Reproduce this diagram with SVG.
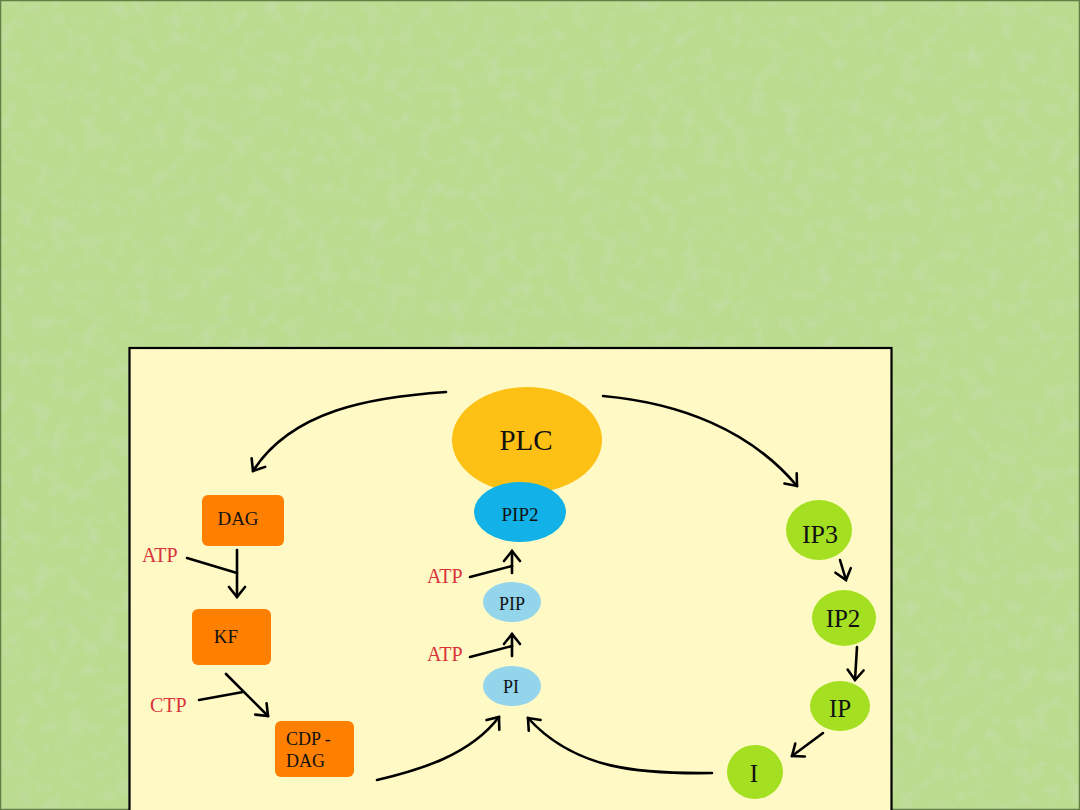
<svg xmlns="http://www.w3.org/2000/svg" width="1080" height="810" viewBox="0 0 1080 810">
<style>
.lbl{font-family:"Liberation Serif","Times New Roman",serif;fill:#111;text-anchor:middle}
.red{font-family:"Liberation Serif","Times New Roman",serif;fill:#d8333b;font-size:20px}
.box{fill:#ff8000}
.edge{fill:none;stroke:#000;stroke-width:2.6;stroke-linecap:round}
.ip{fill:#a4e021}
.pi{fill:#93d5eb}
</style>
<defs>
<filter id="tex" x="0" y="0" width="100%" height="100%">
<feTurbulence type="fractalNoise" baseFrequency="0.06" numOctaves="4" seed="7"/>
<feColorMatrix type="matrix" values="0 0 0 0 0.58  0 0 0 0 0.72  0 0 0 0 0.44  1.8 0 0 0 -0.8"/>
</filter>
<marker id="arr" viewBox="0 0 14 20" refX="12" refY="10" markerWidth="14" markerHeight="20" markerUnits="userSpaceOnUse" orient="auto">
<path d="M2,2 L12,10 L2,18" fill="none" stroke="#000" stroke-width="2.6" stroke-linecap="round" stroke-linejoin="miter"/>
</marker>
</defs>
<rect x="0" y="0" width="1080" height="810" fill="#badc8e"/>
<rect x="0" y="0" width="1080" height="810" fill="#badc8e" filter="url(#tex)" opacity="0.75"/>
<rect x="0.5" y="0.5" width="1079" height="809" fill="none" stroke="#5f7f45" stroke-width="1.5"/>
<rect id="panel" x="129.5" y="348" width="762" height="475" fill="#fff9c6" stroke="#000" stroke-width="2.2"/>

<g id="connectors">
<path class="edge" d="M446,392 C372,397 292,410 253,471" marker-end="url(#arr)"/>
<path class="edge" d="M603,396 C680,403 750,430 797,486" marker-end="url(#arr)"/>
<path class="edge" d="M377,780 C420,770 470,755 499,717" marker-end="url(#arr)"/>
<path class="edge" d="M712,773 C640,774 575,770 528,718" marker-end="url(#arr)"/>
<path class="edge" d="M237,550 L237,597" marker-end="url(#arr)"/>
<path class="edge" d="M187,558 L237,573"/>
<path class="edge" d="M226,674 L268,716" marker-end="url(#arr)"/>
<path class="edge" d="M199,700 L243,692"/>
<path class="edge" d="M512,656 L512,634" marker-end="url(#arr)"/>
<path class="edge" d="M470,657 L512,646"/>
<path class="edge" d="M512,573 L512,551" marker-end="url(#arr)"/>
<path class="edge" d="M470,577 L512,566"/>
<path class="edge" d="M840,560 L846,580" marker-end="url(#arr)"/>
<path class="edge" d="M857,647 L855,680" marker-end="url(#arr)"/>
<path class="edge" d="M823,733 L792,756" marker-end="url(#arr)"/>
</g>

<g id="PLC"><ellipse cx="527" cy="440" rx="75" ry="53" fill="#fdc014"/><text class="lbl" x="526" y="450" font-size="29">PLC</text></g>
<g id="PIP2"><ellipse cx="520" cy="512" rx="46" ry="30" fill="#12b1e8"/><text class="lbl" x="520" y="521" font-size="19">PIP2</text></g>
<g id="PIP"><ellipse class="pi" cx="512" cy="602" rx="29" ry="20"/><text class="lbl" x="512" y="610" font-size="18">PIP</text></g>
<g id="PI"><ellipse class="pi" cx="512" cy="686" rx="29" ry="20"/><text class="lbl" x="511" y="693" font-size="18">PI</text></g>

<g id="DAG"><rect class="box" x="202" y="495" width="82" height="51" rx="6"/><text class="lbl" x="238" y="525" font-size="19">DAG</text></g>
<g id="KF"><rect class="box" x="192" y="609" width="79" height="56" rx="6"/><text class="lbl" x="226" y="643" font-size="19">KF</text></g>
<g id="CDP-DAG"><rect class="box" x="275" y="721" width="79" height="56" rx="6"/><text class="lbl" x="286" y="745" font-size="18" style="text-anchor:start">CDP -</text><text class="lbl" x="286" y="767" font-size="18" style="text-anchor:start">DAG</text></g>

<g id="IP3"><ellipse class="ip" cx="819" cy="530" rx="33" ry="30"/><text class="lbl" x="820" y="543" font-size="26">IP3</text></g>
<g id="IP2"><ellipse class="ip" cx="844" cy="618" rx="32" ry="28"/><text class="lbl" x="843" y="627" font-size="25">IP2</text></g>
<g id="IP"><ellipse class="ip" cx="840" cy="706" rx="30" ry="25"/><text class="lbl" x="840" y="717" font-size="25">IP</text></g>
<g id="I"><ellipse class="ip" cx="755" cy="772" rx="28" ry="27"/><text class="lbl" x="754" y="782" font-size="25">I</text></g>

<g id="labels">
<text class="red" x="142" y="562">ATP</text>
<text class="red" x="150" y="712">CTP</text>
<text class="red" x="427" y="583">ATP</text>
<text class="red" x="427" y="661">ATP</text>
</g>
</svg>
